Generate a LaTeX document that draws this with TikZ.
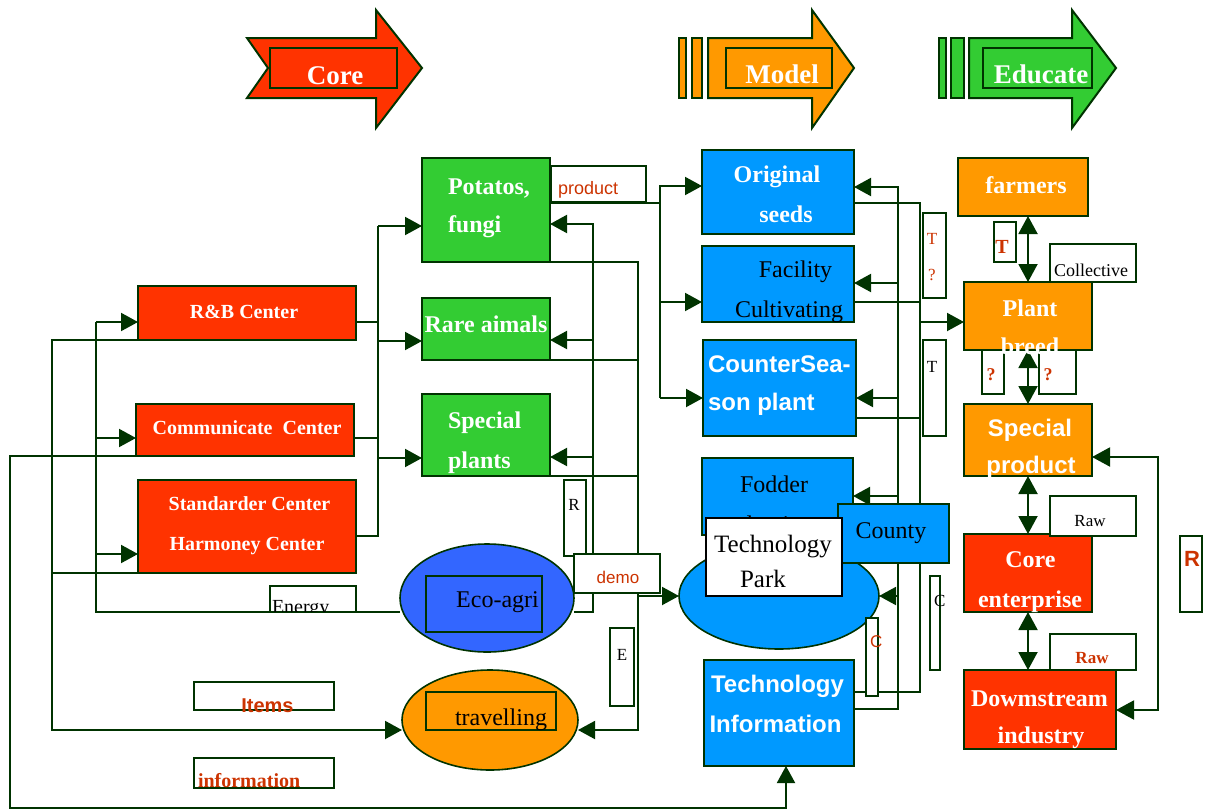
\documentclass[tikz,border=0pt]{standalone}
\usepackage{fontspec}
\setmainfont{Liberation Serif}
\setsansfont{Liberation Sans}
\usetikzlibrary{arrows.meta,shapes.geometric}
\definecolor{cRed}{HTML}{FF3300}
\definecolor{cOrange}{HTML}{FF9900}
\definecolor{cGreen}{HTML}{33CC33}
\definecolor{cBlue}{HTML}{0099FF}
\definecolor{cEco}{HTML}{3366FF}
\definecolor{lc}{HTML}{003300}
\definecolor{cLbl}{HTML}{CC3300}
\newcommand\fs[1]{\fontsize{#1}{#1}\selectfont}
\newcommand\mkbox[6]{%
  \pgfmathsetmacro\mkbw{#5-#3}\pgfmathsetmacro\mkbh{#6-#4}%
  \pgfmathsetmacro\mkcx{(#3+#5)/2}\pgfmathsetmacro\mkcy{(#4+#6)/2}%
  \node[box,#2,minimum width=\mkbw pt,minimum height=\mkbh pt] (#1) at (\mkcx,\mkcy) {};}
\begin{document}
\begin{tikzpicture}[x=1pt,y=-1pt,
  ln/.style={draw=lc,line width=2pt},
  arr/.style={ln,-{Triangle[length=17pt,width=18pt]}},
  darr/.style={ln,{Triangle[length=18pt,width=19pt]}-{Triangle[length=18pt,width=19pt]}},
  box/.style={draw=lc,line width=2pt,inner sep=0pt,outer sep=0pt,rectangle},
  lbox/.style={box,fill=white},
  ellshape/.style={ellipse,inner sep=0pt,outer sep=0pt},
  ell/.style={ellshape,draw=lc,line width=1.6pt},
  txt/.style={inner sep=0pt,outer sep=0pt,anchor=base},
  wb/.style={txt,text=white,font=\bfseries\fs{24}},
  ws/.style={txt,text=white,font=\sffamily\bfseries\fs{24}},
  bk/.style={txt,text=black,font=\fs{24}},
  lb/.style={txt,text=cLbl},
  big/.style={draw=lc,line width=2pt,line join=miter},
]
\useasboundingbox (0,0) rectangle (1207,811);

% ---------- top arrows ----------
\draw[big,fill=cRed] (247,38) -- (376,38) -- (376,10) -- (422,68) -- (376,128) -- (376,98) -- (247,98) -- (268,68) -- cycle;
\draw[big] (270,48) rectangle (397,88);
\node[wb,font=\bfseries\fs{27}] (tcore) at (335,84) {Core};

\draw[big,fill=cOrange] (679,38) rectangle (686,98);
\draw[big,fill=cOrange] (692,38) rectangle (702,98);
\draw[big,fill=cOrange] (708,38) -- (812,38) -- (812,10) -- (854,68) -- (812,128) -- (812,98) -- (708,98) -- cycle;
\draw[big] (726,48) rectangle (832,88);
\node[wb,font=\bfseries\fs{27}] (tmodel) at (782,83) {Model};

\draw[big,fill=cGreen] (939,38) rectangle (946,98);
\draw[big,fill=cGreen] (951,38) rectangle (964,98);
\draw[big,fill=cGreen] (969,38) -- (1072,38) -- (1072,10) -- (1116,68) -- (1072,128) -- (1072,98) -- (969,98) -- cycle;
\draw[big] (983,48) rectangle (1092,88);
\node[wb,font=\bfseries\fs{27}] (tedu) at (1041,83) {Educate};

% ---------- main boxes ----------
\mkbox{rb}{fill=cRed}{138}{286}{356}{340}
\mkbox{comm}{fill=cRed}{136}{404}{354}{456}
\mkbox{std}{fill=cRed}{138}{480}{356}{573}
\mkbox{pot}{fill=cGreen}{422}{158}{550}{262}
\mkbox{rare}{fill=cGreen}{422}{298}{550}{360}
\mkbox{spp}{fill=cGreen}{422}{394}{550}{476}
\mkbox{orig}{fill=cBlue}{702}{150}{854}{234}
\mkbox{fac}{fill=cBlue}{702}{246}{854}{322}
\mkbox{cs}{fill=cBlue}{703}{340}{856}{436}
\mkbox{fod}{fill=cBlue}{702}{458}{853}{535}
\mkbox{ti}{fill=cBlue}{704}{660}{854}{766}
\mkbox{far}{fill=cOrange}{958}{158}{1088}{216}
\mkbox{pb}{fill=cOrange}{964}{282}{1092}{350}
\mkbox{sp}{fill=cOrange}{964}{404}{1092}{476}
\mkbox{ce}{fill=cRed}{964}{534}{1092}{612}
\mkbox{ds}{fill=cRed}{964}{670}{1116}{749}

% ellipse outlines declared (drawn later, over the connector ends)
\path (487,598) node[ellshape,minimum width=174pt,minimum height=108pt] (eco) {};
\path (490,720) node[ellshape,minimum width=176pt,minimum height=100pt] (trav) {};
\path (779,596) node[ellshape,minimum width=200pt,minimum height=106pt] (park) {};

% ---------- connectors ----------
% eco-agri -> centers
\draw[ln] (eco.west |- 0,612) -| (96,322);
\draw[arr] (96,322) -- (rb.west |- 0,322);
\draw[arr] (96,438) -- (comm.west |- 0,438);
\draw[arr] (96,554) -- (std.west |- 0,554);
% centers -> travelling
\draw[arr] (rb.south west) -- (52,340) -- (52,730) -- (trav.west |- 0,730);
\draw[ln] (std.south west) -- (52,573);
% communicate -> technology information
\draw[arr] (comm.south west) -- (10,456) -- (10,808) -- (786,808) -- (ti.south -| 786,0);
% centers -> green boxes
\draw[ln] (rb.east |- 0,322) -- (378,322);
\draw[ln] (comm.east |- 0,438) -- (378,438);
\draw[ln] (std.east |- 0,536) -- (378,536) -- (378,226);
\draw[arr] (378,226) -- (pot.west |- 0,226);
\draw[arr] (378,341) -- (rare.west |- 0,341);
\draw[arr] (378,458) -- (spp.west |- 0,458);
% potatos product -> blue boxes
\draw[ln] (pot.east |- 0,203) -- (660,203);
\draw[arr] (660,398) |- (orig.west |- 0,186);
\draw[arr] (660,302) -- (fac.west |- 0,302);
\draw[arr] (660,398) -- (cs.west |- 0,398);
% eco-agri -> green boxes
\draw[arr] (eco.east |- 0,612) -- (593,612) |- (pot.east |- 0,224);
\draw[arr] (593,340) -- (rare.east |- 0,340);
\draw[arr] (593,457) -- (spp.east |- 0,457);
% green boxes -> travelling / technology park
\draw[arr] (pot.south east) -- (638,262) |- (trav.east |- 0,730);
\draw[ln] (rare.south east) -- (638,360);
\draw[ln] (spp.south east) -- (638,476);
\draw[arr] (638,596) -- (park.west);
% technology information -> blue boxes
\draw[arr] (ti.east |- 0,709) -| (898,187) -- (orig.east |- 0,187);
\draw[arr] (898,283) -- (fac.east |- 0,283);
\draw[arr] (898,398) -- (cs.east |- 0,398);
\draw[arr] (898,496) -- (fod.east |- 0,496);
\draw[arr] (898,596) -- (park.east);
% blue boxes -> plant breed / technology information
\draw[ln] (orig.east |- 0,203) -- (920,203) |- (ti.east |- 0,692);
\draw[ln] (fac.east |- 0,302) -- (920,302);
\draw[ln] (cs.east |- 0,418) -- (920,418);
\draw[arr] (920,322) -- (pb.west |- 0,322);
% right column
\draw[darr] (pb.north |- far.south) -- (pb.north);
\draw[darr] (pb.south) -- (sp.north);
\draw[darr] (sp.south) -- (ce.north);
\draw[darr] (ce.south) -- (ds.north -| ce.south);
\draw[darr] (sp.east |- 0,457) -- (1158,457) -- (1158,710) -- (ds.east |- 0,710);

% ---------- ellipses ----------
\node[ell,fill=cEco,minimum width=174pt,minimum height=108pt] (ecoE) at (eco) {};
\draw[ln] (426,576) rectangle (542,632);
\node[bk] (teco) at (497.5,607) {Eco-agri};
\node[ell,fill=cOrange,minimum width=176pt,minimum height=100pt] (travE) at (trav) {};
\draw[ln] (426,692) rectangle (556,730);
\node[bk] (ttrav) at (501,725) {travelling};

% texts of main boxes
\node[wb,font=\bfseries\fs{20}] (trb) at (244,318) {R\&B Center};
\node[wb,font=\bfseries\fs{20}] (tcomm) at (247,434) {Communicate~~Center};
\node[wb,font=\bfseries\fs{20}] (tstd1) at (249.5,510) {Standarder Center};
\node[wb,font=\bfseries\fs{20}] (tstd2) at (247,550) {Harmoney Center};
\node[wb,anchor=base west] (tpot1) at (448,194) {Potatos,};
\node[wb,anchor=base west] (tpot2) at (448,232) {fungi};
\node[wb] (trare) at (486,332) {Rare aimals};
\node[wb,anchor=base west] (tspp1) at (448,428) {Special};
\node[wb,anchor=base west] (tspp2) at (448,468) {plants};
\node[wb] (torig1) at (777,182) {Original};
\node[wb] (torig2) at (786,222) {seeds};
\node[bk] (tfac1) at (795.5,277) {Facility};
\node[bk] (tfac2) at (789,317) {Cultivating};
\node[ws,anchor=base west] (tcs1) at (708,372) {CounterSea-};
\node[ws,anchor=base west] (tcs2) at (708,410) {son plant};
\node[bk] (tfod1) at (774,492) {Fodder};
\begin{scope}
\clip (703,500) rectangle (852,519);
\node[bk] (tfod2) at (774,532) {planting};
\end{scope}
\node[ws] (tti1) at (777.5,692) {Technology};
\node[ws] (tti2) at (775.5,732) {Information};
\node[wb] (tfar) at (1026,193) {farmers};
\node[wb] (tpb1) at (1030,316) {Plant};
\node[ws] (tsp1) at (1030,436) {Special};
\node[ws] (tsp2) at (1031,473) {product};
\node[wb] (tce1) at (1030.5,567) {Core};
\node[wb] (tce2) at (1030,607) {enterprise};
\node[wb] (tds1) at (1039.5,706) {Dowmstream};
\node[wb] (tds2) at (1041,743) {industry};

% technology park
\node[ell,fill=cBlue,minimum width=200pt,minimum height=106pt] (parkE) at (park) {};
\mkbox{cty}{fill=cBlue}{838}{504}{949}{563}
\node[bk] (tcty) at (891,538) {County};
\mkbox{pk}{fill=white,draw=black}{706}{518}{842}{596}
\node[bk,font=\fs{25}] (tpk1) at (773,552) {Technology};
\node[bk,font=\fs{25}] (tpk2) at (763,587) {Park};

% ---------- label boxes ----------
\mkbox{lprod}{lbox}{551}{166}{646}{202}
\node[lb,anchor=base west,font=\sffamily\fs{18}] (tprod) at (558,194) {product};
\mkbox{lr}{lbox}{564}{480}{586}{556}
\node[bk,font=\fs{17}] (tr) at (574,510) {R};
\mkbox{ldemo}{lbox}{574}{554}{660}{593}
\node[lb,font=\sffamily\fs{17}] (tdemo) at (618,583) {demo};
\mkbox{le}{lbox}{610}{628}{634}{706}
\node[bk,font=\fs{17}] (te) at (622,660) {E};
\mkbox{len}{lbox}{270}{586}{356}{612}
\begin{scope}
\clip (271,587) rectangle (355,611);
\node[bk,font=\fs{20},anchor=base west] (ten) at (272,613) {Energy};
\end{scope}
\mkbox{litems}{lbox}{194}{682}{334}{710}
\node[lb,font=\sffamily\bfseries\fs{20}] (titems) at (267.5,712) {Items};
\mkbox{linfo}{lbox}{194}{758}{334}{788}
\node[lb,anchor=base west,font=\bfseries\fs{20}] (tinfo) at (198,787) {information};
\mkbox{ltq}{lbox}{923}{213}{946}{298}
\node[lb,font=\fs{17}] (ttq1) at (932,244) {T};
\node[lb,font=\fs{17}] (ttq2) at (932,280) {?};
\mkbox{lt}{lbox}{923}{340}{946}{436}
\node[bk,font=\fs{17}] (tt) at (932,372) {T};
\mkbox{lcA}{lbox}{866}{618}{878}{696}
\node[lb,anchor=base west,font=\sffamily\fs{17}] (tcA) at (870,647) {C};
\mkbox{lcB}{lbox}{930}{576}{940}{670}
\node[bk,anchor=base west,font=\fs{17}] (tcB) at (934,606) {C};
\mkbox{lT}{lbox}{994}{222}{1016}{262}
\node[lb,font=\bfseries\fs{20}] (tT) at (1002,253) {T};
\mkbox{lcol}{lbox}{1050}{244}{1136}{282}
\node[bk,font=\fs{18}] (tcol) at (1091,276) {Collective};
\mkbox{lq1}{lbox}{982}{350}{1004}{394}
\node[lb,font=\bfseries\fs{18}] (tq1) at (991,380) {?};
\mkbox{lq2}{lbox}{1039}{350}{1076}{394}
\node[lb,font=\bfseries\fs{18}] (tq2) at (1048,380) {?};
\node[wb] (tpb2) at (1030,354) {breed};
\mkbox{lraw}{lbox}{1050}{496}{1136}{536}
\node[bk,font=\fs{17}] (traw) at (1090,526) {Raw};
\mkbox{lraw2}{lbox}{1050}{634}{1136}{670}
\node[lb,font=\bfseries\fs{17}] (traw2) at (1092,663) {Raw};
\mkbox{lR}{lbox}{1180}{536}{1202}{612}
\node[lb,font=\sffamily\bfseries\fs{22}] (tR) at (1192,566) {R};
\end{tikzpicture}
\end{document}
